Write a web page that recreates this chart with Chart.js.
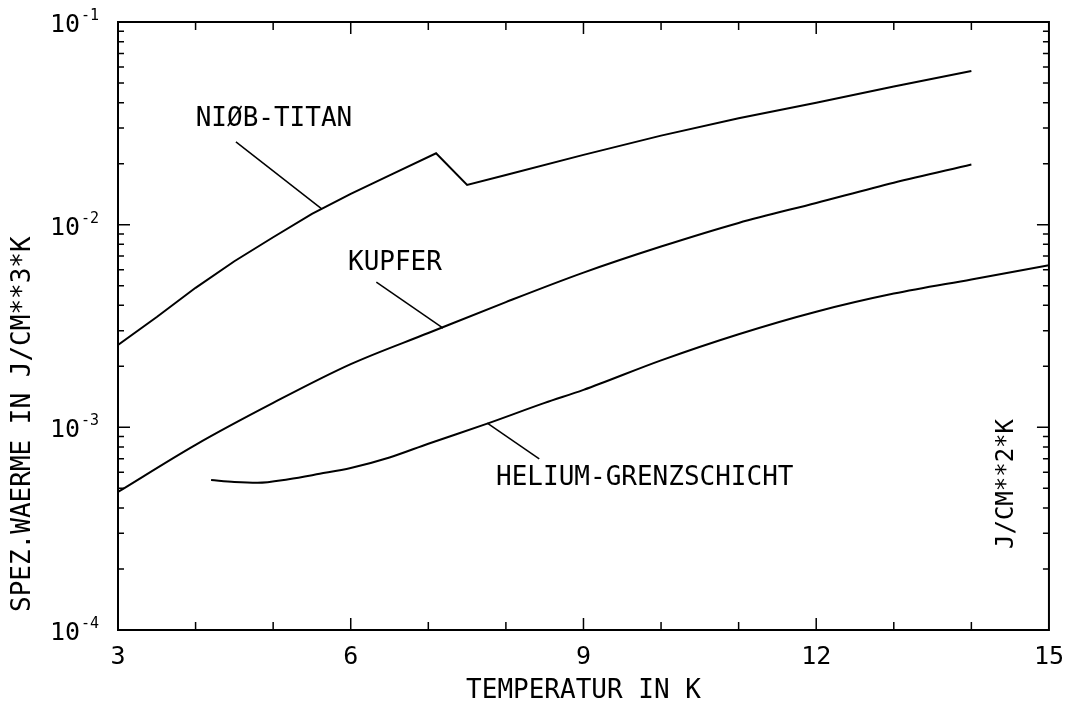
<!DOCTYPE html>
<html>
<head>
<meta charset="utf-8">
<script src="https://cdn.jsdelivr.net/npm/chart.js@4/dist/chart.umd.min.js"></script>
<style>
  html, body { margin: 0; padding: 0; background: #fff; }
</style>
</head>
<body>
<canvas id="myChart" width="1076" height="710"></canvas>
<script>
'use strict';

// temperature in K, heat capacity
const tempNb = [3, 3.5, 4, 4.5, 5, 5.5, 6, 6.5, 7.1, 7.5, 8, 9, 10, 11, 12, 13, 14];
const cNb = [2.55e-3, 3.5e-3, 4.88e-3, 6.6e-3, 8.67e-3, 1.13e-2, 1.42e-2, 1.75e-2, 2.25e-2, 1.57e-2, 1.76e-2, 2.21e-2, 2.75e-2, 3.35e-2, 4.0e-2, 4.8e-2, 5.73e-2];

const tempCu = [3, 4, 5, 6, 7, 8, 9, 10, 11, 12, 13, 14];
const cCu = [4.8e-4, 8.2e-4, 1.32e-3, 2.05e-3, 2.92e-3, 4.15e-3, 5.8e-3, 7.8e-3, 1.02e-2, 1.28e-2, 1.61e-2, 1.98e-2];

const tempHe = [4.2, 4.5, 4.8, 5.2, 5.6, 6, 6.5, 7, 7.75, 8.5, 9, 10, 11, 12, 13, 14, 15];
const cHe = [5.5e-4, 5.38e-4, 5.33e-4, 5.55e-4, 5.9e-4, 6.3e-4, 7.1e-4, 8.3e-4, 1.04e-3, 1.32e-3, 1.53e-3, 2.14e-3, 2.88e-3, 3.72e-3, 4.57e-3, 5.37e-3, 6.31e-3];

const xTickStep = 3;
const yTickValues = [1e-1, 1e-2, 1e-3, 1e-4];
const yTickExp = ['-1', '-2', '-3', '-4'];

// curve labels with leader lines, in data units
const notes = [
  { text: 'NIØB-TITAN', at: [5.01, 0.0332], from: [4.52, 0.0256], to: [5.63, 0.01194] },
  { text: 'KUPFER', at: [6.57, 6.47e-3], from: [6.33, 5.21e-3], to: [7.19, 3.09e-3] },
  { text: 'HELIUM-GRENZSCHICHT', at: [9.79, 5.62e-4], from: [8.43, 6.99e-4], to: [7.76, 1.05e-3] }
];

const FONT = "'DejaVu Sans Mono', monospace";

function toPoints(xs, ys) {
  return xs.map((t, i) => ({ x: t, y: ys[i] }));
}

const lineStyle = {
  borderColor: '#000',
  borderWidth: 2,
  pointRadius: 0,
  fill: false
};

const frameAndNotes = {
  id: 'frameAndNotes',
  afterDraw(chart) {
    const { ctx, chartArea: a, scales: { x, y } } = chart;
    ctx.save();
    ctx.strokeStyle = '#000';
    ctx.fillStyle = '#000';

    // frame
    ctx.lineWidth = 2;
    ctx.strokeRect(a.left, a.top, a.right - a.left, a.bottom - a.top);

    // inward ticks, longer at the labelled values
    ctx.lineWidth = 1.5;
    ctx.beginPath();
    for (let t = x.min + 1; t < x.max; t++) {
      const px = x.getPixelForValue(t);
      const len = (t - x.min) % xTickStep === 0 ? 12 : 8;
      ctx.moveTo(px, a.bottom); ctx.lineTo(px, a.bottom - len);
      ctx.moveTo(px, a.top); ctx.lineTo(px, a.top + len);
    }
    const lo = Math.round(Math.log10(y.min));
    const hi = Math.round(Math.log10(y.max));
    for (let d = lo; d <= hi; d++) {
      for (let m = 1; m <= 9; m++) {
        const v = m * Math.pow(10, d);
        if (v > y.max * 1.0001) break;
        const py = y.getPixelForValue(v);
        const len = m === 1 ? 12 : 6;
        ctx.moveTo(a.left, py); ctx.lineTo(a.left + len, py);
        ctx.moveTo(a.right, py); ctx.lineTo(a.right - len, py);
      }
    }
    ctx.stroke();

    // y tick labels as 10 with superscript exponent
    yTickValues.forEach((v, i) => {
      const py = y.getPixelForValue(v);
      ctx.font = '25px ' + FONT;
      ctx.textAlign = 'right';
      ctx.textBaseline = 'alphabetic';
      ctx.fillText('10', a.left - 38, py + 10);
      ctx.font = '15px ' + FONT;
      ctx.textAlign = 'left';
      ctx.fillText(yTickExp[i], a.left - 37, py - 2);
    });

    // y axis title, rotated
    ctx.save();
    ctx.font = '26px ' + FONT;
    ctx.translate(23, 612);
    ctx.rotate(-Math.PI / 2);
    ctx.textAlign = 'left';
    ctx.textBaseline = 'middle';
    ctx.fillText('SPEZ.WAERME IN J/CM**3*K', 0, 0);
    ctx.restore();

    // second unit label inside the frame
    ctx.save();
    ctx.font = '24px ' + FONT;
    ctx.translate(1007, 484);
    ctx.rotate(-Math.PI / 2);
    ctx.textAlign = 'center';
    ctx.textBaseline = 'middle';
    ctx.fillText('J/CM**2*K', 0, 0);
    ctx.restore();

    // curve labels and leaders
    ctx.lineWidth = 1.5;
    ctx.font = '26px ' + FONT;
    ctx.textAlign = 'center';
    ctx.textBaseline = 'middle';
    notes.forEach(n => {
      ctx.fillText(n.text, x.getPixelForValue(n.at[0]), y.getPixelForValue(n.at[1]));
      ctx.beginPath();
      ctx.moveTo(x.getPixelForValue(n.from[0]), y.getPixelForValue(n.from[1]));
      ctx.lineTo(x.getPixelForValue(n.to[0]), y.getPixelForValue(n.to[1]));
      ctx.stroke();
    });

    ctx.restore();
  }
};

const ctx = document.getElementById('myChart').getContext('2d');

const myChart = new Chart(ctx, {
  type: 'line',
  data: {
    datasets: [
      Object.assign({ label: 'NIØB-TITAN', data: toPoints(tempNb, cNb), tension: 0 }, lineStyle),
      Object.assign({ label: 'KUPFER', data: toPoints(tempCu, cCu), cubicInterpolationMode: 'monotone' }, lineStyle),
      Object.assign({ label: 'HELIUM-GRENZSCHICHT', data: toPoints(tempHe, cHe), cubicInterpolationMode: 'monotone' }, lineStyle)
    ]
  },
  options: {
    responsive: false,
    animation: false,
    devicePixelRatio: 1,
    layout: { padding: { top: 22, right: 21, left: 0, bottom: 0 } },
    plugins: {
      legend: { display: false },
      tooltip: { enabled: false }
    },
    scales: {
      x: {
        type: 'linear',
        min: 3,
        max: 15,
        grid: { display: false, drawTicks: false },
        border: { display: false },
        ticks: {
          stepSize: xTickStep,
          color: '#000',
          padding: 12,
          font: { family: FONT, size: 25 }
        },
        title: {
          display: true,
          text: 'TEMPERATUR IN K',
          color: '#000',
          padding: { top: 0, bottom: 3 },
          font: { family: FONT, size: 26 }
        },
        afterFit: s => { s.height = 80; }
      },
      y: {
        type: 'logarithmic',
        min: 1e-4,
        max: 1e-1,
        grid: { display: false, drawTicks: false },
        border: { display: false },
        ticks: { display: false },
        afterFit: s => { s.width = 118; }
      }
    }
  },
  plugins: [frameAndNotes]
});
</script>
</body>
</html>
